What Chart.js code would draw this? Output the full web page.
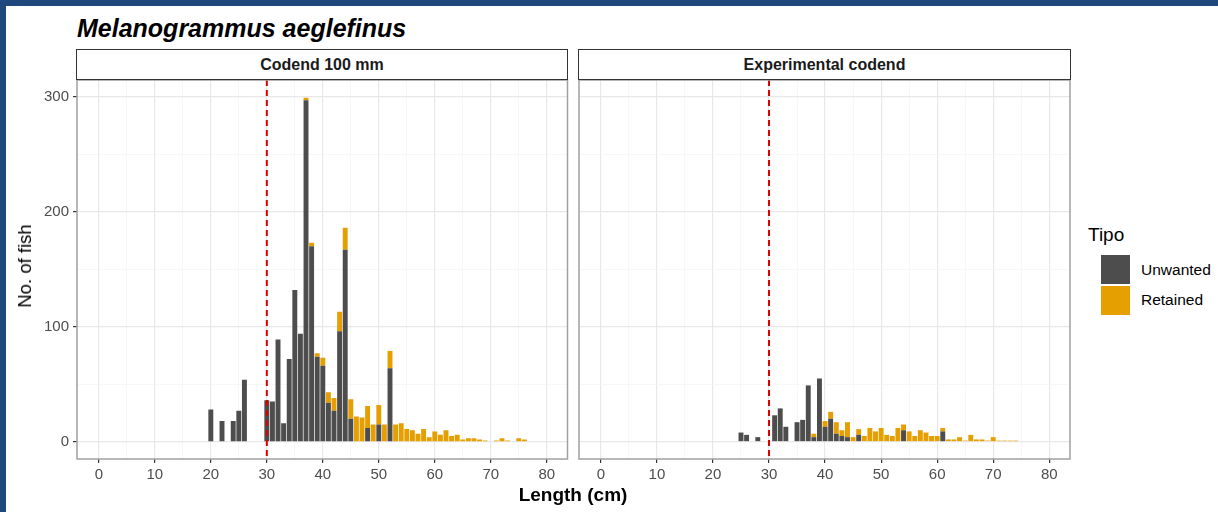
<!DOCTYPE html>
<html>
<head>
<meta charset="utf-8">
<script src="https://cdn.jsdelivr.net/npm/chart.js@4.4.1/dist/chart.umd.min.js"></script>
<style>
  html, body { margin:0; padding:0; background:#fff; }
  body { width:1218px; height:512px; position:relative; overflow:hidden; font-family:"Liberation Sans", Arial, sans-serif; }
  .abs { position:absolute; }
  #bt { left:0; top:0; width:1218px; height:6px; background:#1f497d; }
  #bl { left:0; top:0; width:6px; height:512px; background:#1f497d; }
  #title { left:77px; top:14px; font-size:25px; font-weight:bold; font-style:italic; color:#000; white-space:nowrap; }
  .strip { top:49px; height:31px; box-sizing:border-box; border:1.3px solid #333; background:#fff;
           font-size:16px; font-weight:bold; color:#1a1a1a; display:flex; align-items:center; justify-content:center; }
  #ytitle { left:25px; top:266px; transform:translate(-50%,-50%) rotate(-90deg); font-size:18.5px; color:#000; white-space:nowrap; }
  #xtitle { left:573px; top:495px; transform:translate(-50%,-50%); font-size:19px; font-weight:bold; color:#000; white-space:nowrap; }
  #legtitle { left:1088px; top:224px; font-size:19px; color:#000; }
  .key { left:1101px; width:29px; height:29px; }
  .klab { left:1141px; font-size:15.5px; color:#000; white-space:nowrap; }
</style>
</head>
<body>
<div id="bt" class="abs"></div>
<div id="bl" class="abs"></div>
<div id="title" class="abs">Melanogrammus aeglefinus</div>
<canvas id="c1" class="abs" width="572" height="512" style="left:0;top:0;"></canvas>
<canvas id="c2" class="abs" width="510" height="512" style="left:572px;top:0;"></canvas>
<div id="s1" class="abs strip" style="left:76px;width:492px;">Codend 100 mm</div>
<div id="s2" class="abs strip" style="left:578px;width:493px;">Experimental codend</div>
<div id="ytitle" class="abs">No. of fish</div>
<div id="xtitle" class="abs">Length (cm)</div>
<div id="legtitle" class="abs">Tipo</div>
<div class="abs key" style="top:255px;background:#4d4d4d;"></div>
<div class="abs key" style="top:286px;background:#e69f00;"></div>
<div class="abs klab" style="top:261px;">Unwanted</div>
<div class="abs klab" style="top:291px;">Retained</div>
<script>
// ---- data ----
const panelTitles = ["Codend 100 mm", "Experimental codend"];
const seriesNames = ["Unwanted", "Retained"];

const lengthsCodend   = [20,22,24,25,26,30,31,32,33,34,35,36,37,38,39,40,41,42,43,44,45,46,47,48,49,50,51,52,53,54,55,56,57,58,59,60,61,62,63,64,65,66,67,68,69,71,72,73,75,76];
const unwantedCodend  = [28,18,18,27,54,36,35,89,16,72,132,94,297,170,74,66,34,27,96,167,20,0,0,12,0,15,0,64,0,0,0,0,0,0,0,0,0,0,0,0,0,0,0,0,0,0,0,0,0,0];
const retainedCodend  = [0,0,0,0,0,0,0,0,0,0,0,0,2,3,3,7,9,11,17,19,17,22,21,19,15,17,15,15,15,16,11,10,7,11,4,9,6,10,5,6,2,3,3,2,1,1,3,1,3,2];

const lengthsExp      = [25,26,28,31,32,33,35,36,37,38,39,40,41,42,43,44,45,46,47,48,49,50,51,52,53,54,55,56,57,58,59,60,61,62,63,64,65,66,67,68,69,70,71,72,73,74];
const unwantedExp     = [8,6,4,23,29,13,17,19,49,4,55,13,20,7,5,4,0,6,0,0,0,0,0,0,0,10,0,0,0,0,0,0,9,0,0,0,0,0,0,0,0,0,0,0,0,0];
const retainedExp     = [0,0,0,0,0,0,0,0,0,3,0,5,6,10,5,13,4,5,5,12,9,12,6,5,12,5,9,5,10,8,5,5,3,2,2,4,1,6,2,2,1,4,1,1,1,1];

const xTicks = [0,5,10,15,20,25,30,35,40,45,50,55,60,65,70,75,80];
const yTicks = [0,50,100,150,200,250,300];
const cutoffLength = 30;

// ---- styling ----
const COL_U = '#4d4d4d', COL_R = '#e69f00';
const FONT = '"Liberation Sans", Arial, sans-serif';

function pts(xs, ys){ return xs.map((x,i)=>({x:x, y: ys[i] === 0 ? null : ys[i]})); }

const panelPlugin = {
  id:'panel',
  afterDatasetsDraw(chart){
    const {ctx, chartArea:a, scales} = chart;
    const px = scales.x.getPixelForValue(cutoffLength);
    ctx.save();
    ctx.strokeStyle = '#d90000';
    ctx.lineWidth = 2;
    ctx.setLineDash([6,4]);
    ctx.beginPath(); ctx.moveTo(px, a.top); ctx.lineTo(px, a.bottom); ctx.stroke();
    ctx.setLineDash([]);
    ctx.strokeStyle = '#a0a0a0';
    ctx.lineWidth = 1.5;
    ctx.strokeRect(a.left, a.top, a.right-a.left, a.bottom-a.top);
    ctx.restore();
  }
};

function makeChart(id, xs, us, rs, first){
  return new Chart(document.getElementById(id), {
    type:'bar',
    data:{ datasets:[
      {label:seriesNames[0], data:pts(xs,us), backgroundColor:COL_U, borderWidth:0, barPercentage:0.88, categoryPercentage:1},
      {label:seriesNames[1], data:pts(xs,rs), backgroundColor:COL_R, borderWidth:0, barPercentage:0.88, categoryPercentage:1}
    ]},
    options:{
      responsive:false, animation:false, events:[],
      layout:{ padding:{ left:0, right: first ? 4.5 : 12, top:80, bottom:23 } },
      plugins:{ legend:{display:false}, tooltip:{enabled:false} },
      scales:{
        x:{ type:'linear', stacked:true, min:-3.9, max:83.7, offset:false,
            afterBuildTicks(s){ s.ticks = xTicks.map(v=>({value:v})); },
            afterFit(s){ s.height = 30; },
            border:{display:false},
            grid:{ offset:false,
                   color:c=> (c.tick && c.tick.value%10===0) ? '#e8e8e8' : '#f3f3f3',
                   lineWidth:c=> (c.tick && c.tick.value%10===0) ? 1.2 : 0.7,
                   tickColor:c=> (c.tick && c.tick.value%10===0) ? '#333333' : 'rgba(0,0,0,0)',
                   tickLength:4, tickWidth:1.2 },
            ticks:{ autoSkip:false, maxRotation:0, padding:3, color:'#4d4d4d', font:{family:FONT, size:15},
                    callback:v=> v%10===0 ? String(v) : '' } },
        y:{ type:'linear', stacked:true, min:-15.0, max:314.5,
            afterBuildTicks(s){ s.ticks = yTicks.map(v=>({value:v})); },
            afterFit(s){ s.width = first ? 77 : 7; },
            border:{display:false},
            grid:{ color:c=> (c.tick && c.tick.value%100===0) ? '#e8e8e8' : '#f3f3f3',
                   lineWidth:c=> (c.tick && c.tick.value%100===0) ? 1.2 : 0.7,
                   tickColor:c=> (c.tick && c.tick.value%100===0) ? '#333333' : 'rgba(0,0,0,0)',
                   drawTicks:first, tickLength:4, tickWidth:1.2 },
            ticks:{ display:first, autoSkip:false, padding:4, color:'#4d4d4d', font:{family:FONT, size:15},
                    callback:v=> v%100===0 ? String(v) : '' } }
      }
    },
    plugins:[panelPlugin]
  });
}

makeChart('c1', lengthsCodend, unwantedCodend, retainedCodend, true);
makeChart('c2', lengthsExp, unwantedExp, retainedExp, false);
</script>
</body>
</html>
